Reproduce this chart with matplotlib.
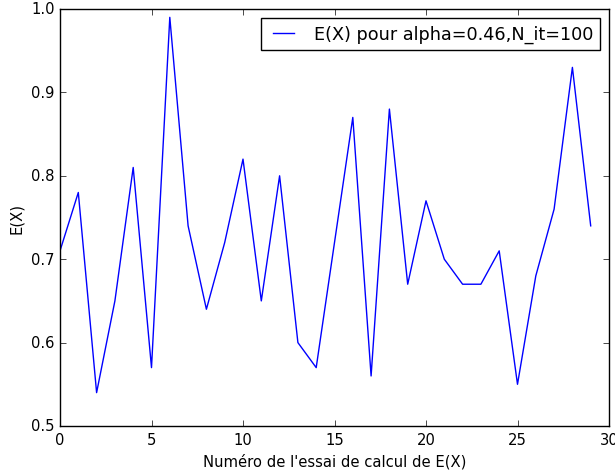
import matplotlib
matplotlib.use('Agg')
import matplotlib.pyplot as plt

essais = list(range(30))
esperances = [0.71, 0.78, 0.54, 0.65, 0.81, 0.57, 0.99, 0.74, 0.64, 0.72,
              0.82, 0.65, 0.80, 0.60, 0.57, 0.72, 0.87, 0.56, 0.88, 0.67,
              0.77, 0.70, 0.67, 0.67, 0.71, 0.55, 0.68, 0.76, 0.93, 0.74]

plt.style.use('classic')
plt.rcParams['font.size'] = 10.6
fig = plt.figure(figsize=(6.15, 4.77), dpi=100)
ax = fig.add_axes([60/615, 50/477, 549/615, 417/477])
ax.plot(essais, esperances, 'b-', label='E(X) pour alpha=0.46,N_it=100')
ax.set_xlim(0, 30)
ax.set_ylim(0.5, 1.0)
ax.set_xlabel("Numéro de l'essai de calcul de E(X)")
ax.set_ylabel("E(X)")
ax.legend(loc='upper right', handlelength=1.8)
fig.savefig('out.png', dpi=100)
